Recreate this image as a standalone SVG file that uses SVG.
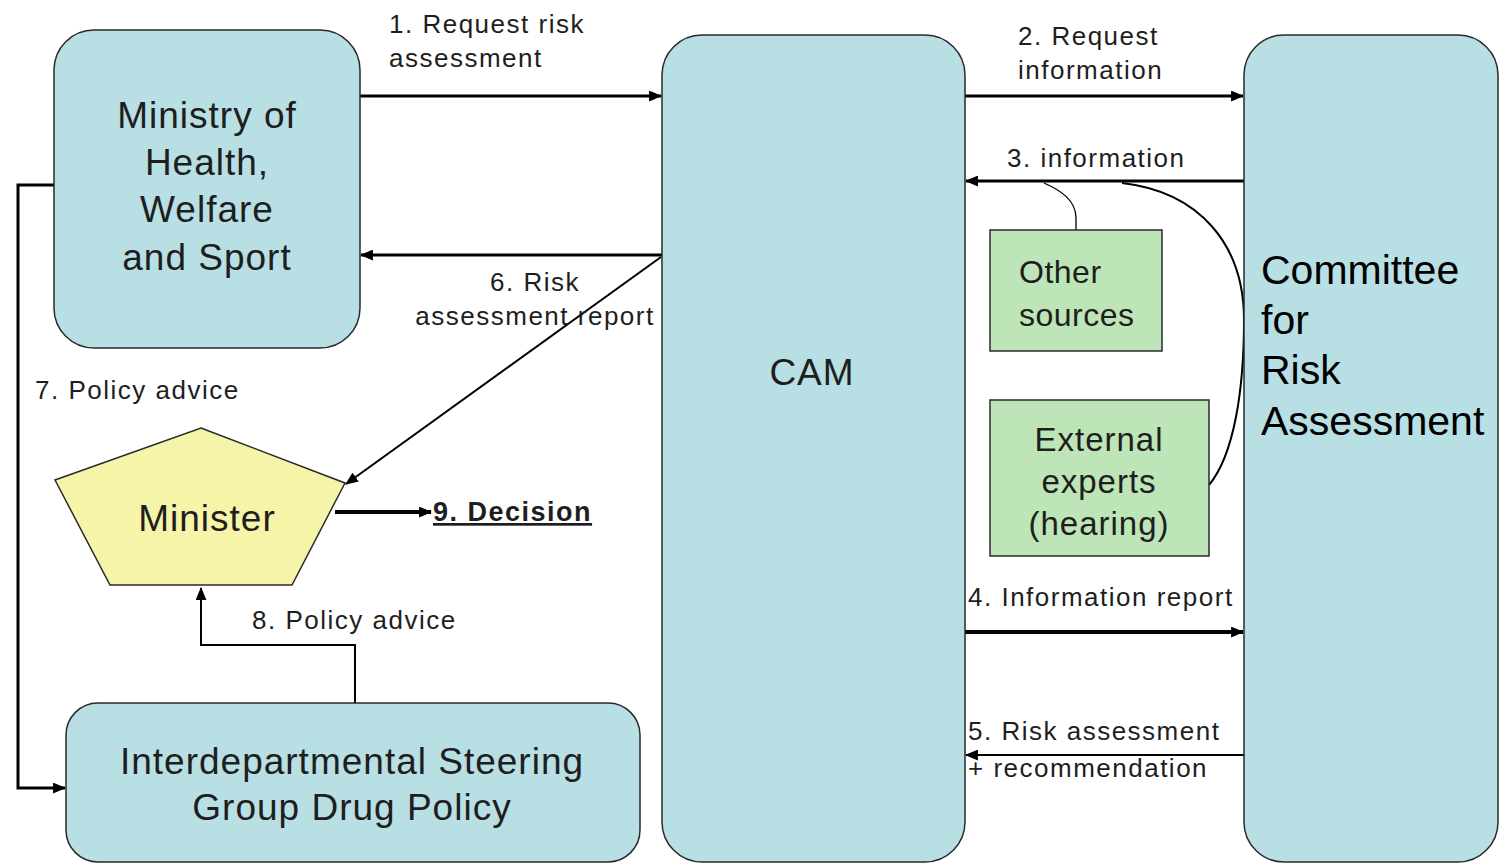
<svg xmlns="http://www.w3.org/2000/svg" width="1501" height="863" viewBox="0 0 1501 863">
<defs>
<marker id="ah" viewBox="0 0 12 10" refX="11" refY="5" markerWidth="13" markerHeight="11" markerUnits="userSpaceOnUse" orient="auto">
<path d="M0,0 L12,5 L0,10 z" fill="#000"/>
</marker>
</defs>
<style>
.box{fill:#b8dfe3;stroke:#2a2a2a;stroke-width:1.5}
.green{fill:#bde5b7;stroke:#2a2a2a;stroke-width:1.5}
.yellow{fill:#f6f4a8;stroke:#2a2a2a;stroke-width:1.5}
text{font-family:"Liberation Sans",Arial,sans-serif;fill:#1e1e1e}
.big{font-size:37px;letter-spacing:1px;text-anchor:middle}
.lbl{font-size:26px;letter-spacing:1.5px}
.cra{font-size:41px;fill:#000}
.ln{fill:none;stroke:#000}
</style>
<rect width="1501" height="863" fill="#fff"/>
<g id="connectors">
<path class="ln" d="M360,96 H661" stroke-width="3" marker-end="url(#ah)"/>
<path class="ln" d="M965,96 H1243" stroke-width="3" marker-end="url(#ah)"/>
<path class="ln" d="M1244,181 H966" stroke-width="3" marker-end="url(#ah)"/>
<path class="ln" d="M662,255 H361" stroke-width="3" marker-end="url(#ah)"/>
<path class="ln" d="M661,257 L346,484" stroke-width="2" marker-end="url(#ah)"/>
<path class="ln" d="M965,632 H1243" stroke-width="4" marker-end="url(#ah)"/>
<path class="ln" d="M1244,755 H966" stroke-width="2" marker-end="url(#ah)"/>
<path class="ln" d="M54,185 H18 V788 H65" stroke-width="3" marker-end="url(#ah)"/>
<path class="ln" d="M355,703 V645 H201 V588" stroke-width="2" marker-end="url(#ah)"/>
<path class="ln" d="M335,512 H431" stroke-width="4" marker-end="url(#ah)"/>
<path class="ln" d="M1076,230 V218 C1076,200 1060,190 1044,183" stroke-width="1.3"/>
<path class="ln" d="M1209,485 C1234,455 1244,390 1244,320 C1244,245 1200,192 1122,183" stroke-width="2"/>
</g>
<g id="ministry">
<rect class="box" x="54" y="30" width="306" height="318" rx="40"/>
<text class="big" x="207" y="128">Ministry of</text>
<text class="big" x="207" y="175">Health,</text>
<text class="big" x="207" y="222">Welfare</text>
<text class="big" x="207" y="270">and Sport</text>
</g>
<g id="cam">
<rect class="box" x="662" y="35" width="303" height="827" rx="40"/>
<text class="big" x="812" y="385">CAM</text>
</g>
<g id="committee">
<rect class="box" x="1244" y="35" width="254" height="827" rx="40"/>
<text class="cra" x="1261" y="284">Committee</text>
<text class="cra" x="1261" y="334">for</text>
<text class="cra" x="1261" y="384">Risk</text>
<text class="cra" x="1261" y="435">Assessment</text>
</g>
<g id="other-sources">
<rect class="green" x="990" y="230" width="172" height="121"/>
<text class="big" style="font-size:32px;text-anchor:start;letter-spacing:0.5px" x="1019" y="283">Other</text>
<text class="big" style="font-size:32px;text-anchor:start;letter-spacing:0.5px" x="1019" y="326">sources</text>
</g>
<g id="external-experts">
<rect class="green" x="990" y="400" width="219" height="156"/>
<text class="big" style="font-size:33px" x="1099" y="451">External</text>
<text class="big" style="font-size:33px" x="1099" y="493">experts</text>
<text class="big" style="font-size:33px" x="1099" y="535">(hearing)</text>
</g>
<g id="minister">
<polygon class="yellow" points="201,428 345,483 292,585 110,585 55,480"/>
<text class="big" x="207" y="531">Minister</text>
</g>
<g id="steering-group">
<rect class="box" x="66" y="703" width="574" height="159" rx="32"/>
<text class="big" x="352" y="774">Interdepartmental Steering</text>
<text class="big" x="352" y="820">Group Drug Policy</text>
</g>
<g id="labels">
<text class="lbl" x="389" y="33">1. Request risk</text>
<text class="lbl" x="389" y="67">assessment</text>
<text class="lbl" x="1018" y="45">2. Request</text>
<text class="lbl" x="1018" y="79">information</text>
<text class="lbl" x="1007" y="167">3. information</text>
<text class="lbl" x="535" y="291" text-anchor="middle">6. Risk</text>
<text class="lbl" x="535" y="325" text-anchor="middle">assessment report</text>
<text class="lbl" x="35" y="399">7. Policy advice</text>
<text class="lbl" x="252" y="629">8. Policy advice</text>
<text class="lbl" x="968" y="606">4. Information report</text>
<text class="lbl" x="968" y="740">5. Risk assessment</text>
<text class="lbl" x="968" y="777">+ recommendation</text>
<text x="433" y="521" style="font-size:27px;font-weight:bold;letter-spacing:1.5px;text-decoration:underline">9. Decision</text>
</g>
</svg>
